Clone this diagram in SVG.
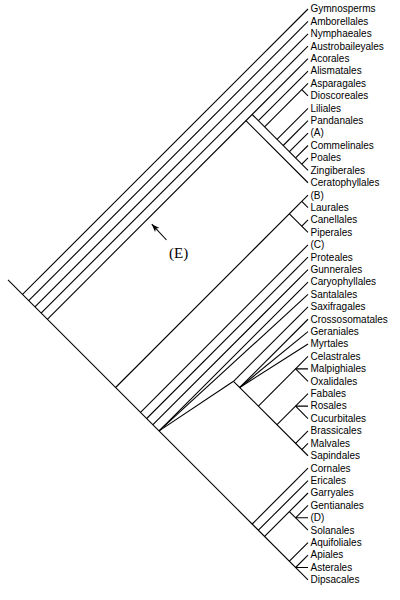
<svg xmlns="http://www.w3.org/2000/svg" width="400" height="600" viewBox="0 0 400 600">
<defs>
<style>
.c line,.c path{stroke:#000;stroke-width:1.1;fill:none;stroke-linecap:butt}
.t{font-family:"Liberation Sans",Arial,sans-serif;font-size:10px;fill:#000}
.e{font-family:"Liberation Serif","Times New Roman",serif;font-size:15px;fill:#000}
</style>
<marker id="ah" markerUnits="userSpaceOnUse" markerWidth="10" markerHeight="8" refX="8" refY="4" orient="auto">
<path d="M0,1 L8,4 L0,7 L2,4 Z" fill="#000"/>
</marker>
</defs>
<rect width="400" height="600" fill="#fff"/>
<g id="connectors" class="c">
<line x1="8" y1="279.86" x2="308" y2="579.86"/>
<line x1="22.5" y1="294.4" x2="308" y2="9"/>
<line x1="28.7" y1="300.7" x2="308" y2="21.41"/>
<line x1="34.9" y1="306.9" x2="308" y2="33.82"/>
<line x1="41.1" y1="313.1" x2="308" y2="46.23"/>
<line x1="47.3" y1="319.3" x2="308" y2="58.64"/>
<line x1="245.9" y1="120.7" x2="308" y2="182.74"/>
<line x1="252.2" y1="114.5" x2="308" y2="170.33"/>
<line x1="258.4" y1="120.7" x2="308" y2="71.05"/>
<line x1="264.6" y1="126.9" x2="308" y2="83.46"/>
<line x1="301.8" y1="89.7" x2="308" y2="95.87"/>
<line x1="277" y1="139.3" x2="308" y2="108.28"/>
<line x1="283.2" y1="145.5" x2="308" y2="120.69"/>
<line x1="289.4" y1="151.7" x2="308" y2="133.1"/>
<line x1="295.6" y1="157.9" x2="308" y2="145.51"/>
<line x1="301.8" y1="164.1" x2="308" y2="157.92"/>
<line x1="115.6" y1="387.5" x2="308" y2="195.15"/>
<line x1="301.8" y1="201.4" x2="308" y2="207.56"/>
<line x1="289.4" y1="213.8" x2="308" y2="232.38"/>
<line x1="301.8" y1="226.2" x2="308" y2="219.97"/>
<line x1="140.5" y1="412.3" x2="308" y2="244.79"/>
<line x1="146.7" y1="418.5" x2="308" y2="257.2"/>
<line x1="152.9" y1="424.7" x2="308" y2="269.61"/>
<line x1="159.1" y1="430.9" x2="308" y2="282.02"/>
<line x1="159.1" y1="430.9" x2="308" y2="294.43"/>
<line x1="159.1" y1="430.9" x2="233.5" y2="381.3"/>
<line x1="233.5" y1="381.3" x2="308" y2="306.84"/>
<line x1="233.5" y1="381.3" x2="308" y2="455.76"/>
<line x1="239.7" y1="387.5" x2="308" y2="319.25"/>
<line x1="239.7" y1="387.5" x2="308" y2="331.66"/>
<line x1="239.7" y1="387.5" x2="308" y2="344.07"/>
<line x1="258.4" y1="406.2" x2="308" y2="356.48"/>
<line x1="295.6" y1="368.9" x2="308" y2="368.89"/>
<line x1="295.6" y1="368.9" x2="308" y2="381.3"/>
<line x1="277" y1="424.7" x2="308" y2="393.71"/>
<line x1="295.6" y1="406.1" x2="308" y2="406.12"/>
<line x1="295.6" y1="406.1" x2="308" y2="418.53"/>
<line x1="295.6" y1="443.35" x2="308" y2="430.94"/>
<line x1="301.8" y1="449.6" x2="308" y2="443.35"/>
<line x1="252.2" y1="524" x2="308" y2="468.17"/>
<line x1="258.4" y1="530.2" x2="308" y2="480.58"/>
<line x1="264.6" y1="536.4" x2="308" y2="492.99"/>
<line x1="289.4" y1="511.6" x2="308" y2="530.22"/>
<line x1="295.6" y1="517.8" x2="308" y2="505.4"/>
<line x1="295.6" y1="517.8" x2="308" y2="517.81"/>
<line x1="289.4" y1="561.2" x2="308" y2="542.63"/>
<line x1="295.6" y1="567.5" x2="308" y2="555.04"/>
<line x1="295.6" y1="567.5" x2="308" y2="567.45"/>
<line x1="166.5" y1="240" x2="151.8" y2="224.2" marker-end="url(#ah)"/>
</g>
<g id="n1"><text class="t" x="310.5" y="12.3">Gymnosperms</text></g>
<g id="n2"><text class="t" x="310.5" y="24.7">Amborellales</text></g>
<g id="n3"><text class="t" x="310.5" y="37.1">Nymphaeales</text></g>
<g id="n4"><text class="t" x="310.5" y="49.5">Austrobaileyales</text></g>
<g id="n5"><text class="t" x="310.5" y="61.9">Acorales</text></g>
<g id="n6"><text class="t" x="310.5" y="74.4">Alismatales</text></g>
<g id="n7"><text class="t" x="310.5" y="86.8">Asparagales</text></g>
<g id="n8"><text class="t" x="310.5" y="99.2">Dioscoreales</text></g>
<g id="n9"><text class="t" x="310.5" y="111.6">Liliales</text></g>
<g id="n10"><text class="t" x="310.5" y="124">Pandanales</text></g>
<g id="n11"><text class="t" x="310.5" y="136.4">(A)</text></g>
<g id="n12"><text class="t" x="310.5" y="148.8">Commelinales</text></g>
<g id="n13"><text class="t" x="310.5" y="161.2">Poales</text></g>
<g id="n14"><text class="t" x="310.5" y="173.6">Zingiberales</text></g>
<g id="n15"><text class="t" x="310.5" y="186">Ceratophyllales</text></g>
<g id="n16"><text class="t" x="310.5" y="198.5">(B)</text></g>
<g id="n17"><text class="t" x="310.5" y="210.9">Laurales</text></g>
<g id="n18"><text class="t" x="310.5" y="223.3">Canellales</text></g>
<g id="n19"><text class="t" x="310.5" y="235.7">Piperales</text></g>
<g id="n20"><text class="t" x="310.5" y="248.1">(C)</text></g>
<g id="n21"><text class="t" x="310.5" y="260.5">Proteales</text></g>
<g id="n22"><text class="t" x="310.5" y="272.9">Gunnerales</text></g>
<g id="n23"><text class="t" x="310.5" y="285.3">Caryophyllales</text></g>
<g id="n24"><text class="t" x="310.5" y="297.7">Santalales</text></g>
<g id="n25"><text class="t" x="310.5" y="310.1">Saxifragales</text></g>
<g id="n26"><text class="t" x="310.5" y="322.6">Crossosomatales</text></g>
<g id="n27"><text class="t" x="310.5" y="335">Geraniales</text></g>
<g id="n28"><text class="t" x="310.5" y="347.4">Myrtales</text></g>
<g id="n29"><text class="t" x="310.5" y="359.8">Celastrales</text></g>
<g id="n30"><text class="t" x="310.5" y="372.2">Malpighiales</text></g>
<g id="n31"><text class="t" x="310.5" y="384.6">Oxalidales</text></g>
<g id="n32"><text class="t" x="310.5" y="397">Fabales</text></g>
<g id="n33"><text class="t" x="310.5" y="409.4">Rosales</text></g>
<g id="n34"><text class="t" x="310.5" y="421.8">Cucurbitales</text></g>
<g id="n35"><text class="t" x="310.5" y="434.2">Brassicales</text></g>
<g id="n36"><text class="t" x="310.5" y="446.7">Malvales</text></g>
<g id="n37"><text class="t" x="310.5" y="459.1">Sapindales</text></g>
<g id="n38"><text class="t" x="310.5" y="471.5">Cornales</text></g>
<g id="n39"><text class="t" x="310.5" y="483.9">Ericales</text></g>
<g id="n40"><text class="t" x="310.5" y="496.3">Garryales</text></g>
<g id="n41"><text class="t" x="310.5" y="508.7">Gentianales</text></g>
<g id="n42"><text class="t" x="310.5" y="521.1">(D)</text></g>
<g id="n43"><text class="t" x="310.5" y="533.5">Solanales</text></g>
<g id="n44"><text class="t" x="310.5" y="545.9">Aquifoliales</text></g>
<g id="n45"><text class="t" x="310.5" y="558.3">Apiales</text></g>
<g id="n46"><text class="t" x="310.5" y="570.8">Asterales</text></g>
<g id="n47"><text class="t" x="310.5" y="583.2">Dipsacales</text></g>
<g id="nE"><text class="e" x="169" y="258">(E)</text></g>
</svg>
